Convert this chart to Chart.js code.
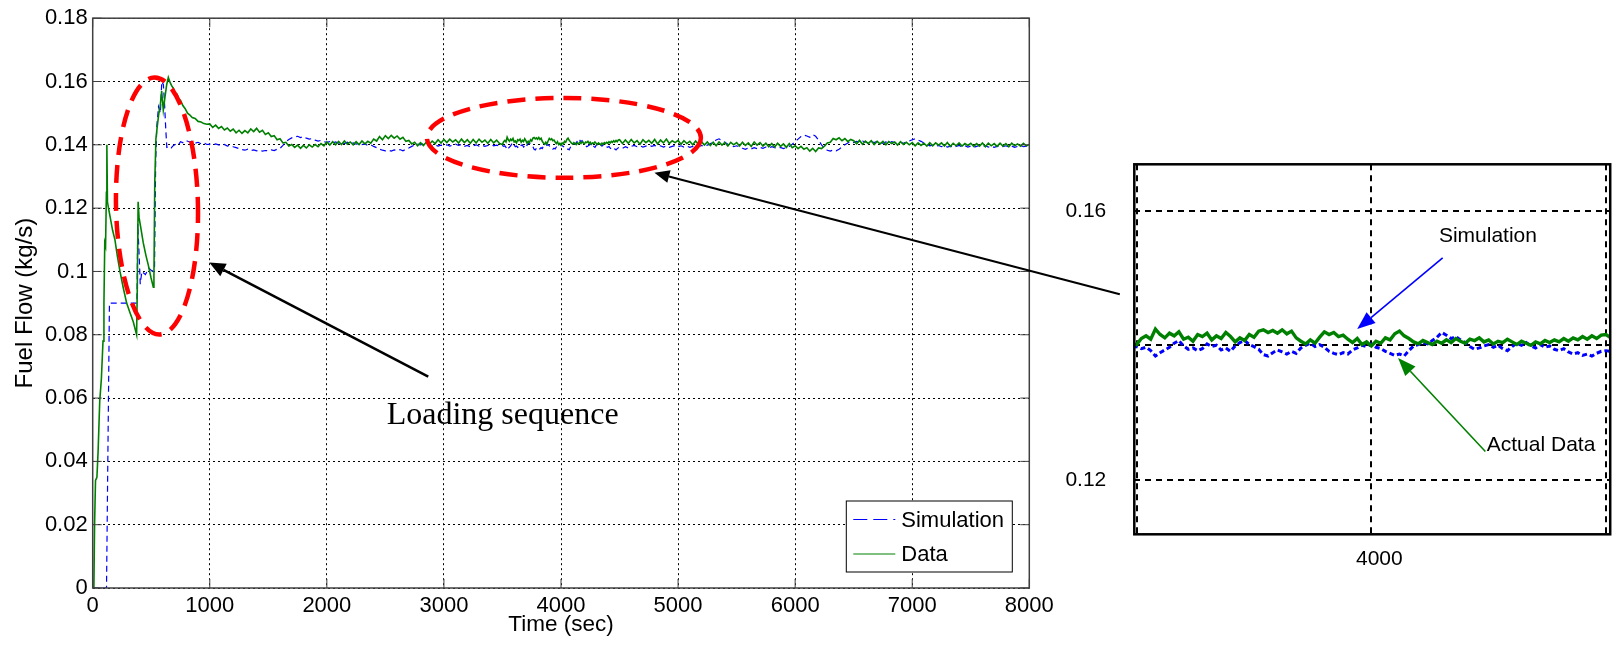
<!DOCTYPE html>
<html>
<head>
<meta charset="utf-8">
<script src="https://cdn.jsdelivr.net/npm/chart.js@4.4.1/dist/chart.umd.min.js"></script>
<style>
  html, body { margin: 0; padding: 0; background: #fff; }
  #wrap { position: relative; width: 1618px; height: 646px; overflow: hidden; }
  #mainChart { position: absolute; left: 0; top: 0; }
  #zoomChart { position: absolute; left: 1030px; top: 0; }
</style>
</head>
<body>
<div id="wrap">
  <canvas id="mainChart" width="1618" height="646"></canvas>
  <canvas id="zoomChart" width="588" height="646"></canvas>
</div>
<script>
// ---------- data ----------
// start-up transient, explicit sample times (s) and fuel flow (kg/s)
const simTransT = [0, 118, 143, 378, 385, 398, 406, 420, 450, 480,
  510, 528, 538, 548, 562, 578, 590, 604, 615, 624,
  633, 650, 670, 690, 710, 730, 750, 775, 800, 825,
  850, 875, 900, 925, 950, 975];
const simTransY = [0, 0, .090, .090, .115, .104, .096, .100, .099, .101,
  .100, .101, .135, .146, .152, .150, .160, .159, .152, .145,
  .1392, .1395, .1390, .1398, .1402, .1399, .1410, .1406, .1413, .1409,
  .1412, .1405, .1408, .1403, .1406, .1401];

const dataTransT = [0, 10, 16, 24, 36, 46, 60, 74, 88, 96,
  103, 110, 117, 121, 126, 135, 150, 170, 190, 210,
  233, 260, 290, 318, 347, 375, 381, 388, 396, 410,
  432, 455, 475, 498, 518, 523, 530, 540, 552, 565,
  576, 589, 603, 617, 632, 646, 660, 674, 690, 705,
  720, 735, 750, 770, 790, 810, 830, 850, 875, 900,
  925, 950, 975];
const dataTransY = [0, 0, .020, .034, .035, .043, .059, .066, .078, .090,
  .109, .108, .125, .140, .122, .120, .117, .113, .110, .105,
  .100, .095, .090, .087, .084, .080, .095, .122, .117, .114,
  .109, .105, .102, .098, .095, .098, .128, .142, .146, .150,
  .152, .157, .151, .155, .159, .1613, .1598, .1587, .1578, .1562,
  .1560, .1545, .1541, .1524, .1514, .1500, .1494, .1486, .1483, .1474,
  .1472, .1467, .1465];

// steady part A: 1000 .. 3475 s, every 25 s
const steadyA = { start: 1000, step: 25 };
const simSteadyA = [
  .1402, .1399, .1403, .1400, .1398, .1401, .1396, .1399, .1394, .1391,
  .1388, .1385, .1383, .1386, .1382, .1384, .1381, .1383, .1380, .1382,
  .1381, .1384, .1382, .1386, .1389, .1398, .1410, .1417, .1422, .1425,
  .1427, .1423, .1426, .1421, .1418, .1420, .1415, .1412, .1414, .1410,
  .1408, .1410, .1406, .1409, .1405, .1407, .1404, .1408, .1403, .1406,
  .1402, .1405, .1401, .1403, .1398, .1400, .1395, .1391, .1386, .1383,
  .1381, .1383, .1380, .1384, .1382, .1385, .1381, .1386, .1390, .1395,
  .1399, .1402, .1400, .1403, .1399, .1401, .1397, .1400, .1396, .1399,
  .1397, .1400, .1396, .1399, .1402, .1398, .1401, .1395, .1398, .1394,
  .1397, .1400, .1396, .1399, .1395, .1398, .1401, .1397, .1399, .1396];
const dataSteadyA = [
  .1466, .1455, .1462, .1452, .1458, .1447, .1453, .1443, .1450, .1438,
  .1446, .1436, .1445, .1438, .1450, .1442, .1452, .1440, .1446, .1433,
  .1438, .1426, .1429, .1416, .1419, .1406, .1408, .1396, .1401, .1392,
  .1399, .1389, .1398, .1390, .1400, .1393, .1401, .1394, .1404, .1397,
  .1409, .1399, .1410, .1400, .1411, .1401, .1412, .1402, .1409, .1400,
  .1410, .1401, .1412, .1403, .1411, .1405, .1418, .1412, .1426, .1416,
  .1429, .1420, .1430, .1421, .1428, .1418, .1424, .1411, .1414, .1403,
  .1408, .1397, .1407, .1398, .1409, .1402, .1412, .1404, .1416, .1406,
  .1417, .1407, .1418, .1409, .1416, .1406, .1418, .1407, .1416, .1405,
  .1417, .1406, .1418, .1408, .1415, .1405, .1417, .1406, .1415, .1404];

// steady part B (the zoomed window): 3500 .. 4490 s, every 10 s
const steadyB = { start: 3500, step: 10 };
const simSteadyB = [
  .1398, .1395, .1397, .1392, .1384, .1389, .1393, .1397, .1403, .1407,
  .1399, .1394, .1396, .1392, .1395, .1402, .1398, .1400, .1393, .1396,
  .1391, .1399, .1404, .1407, .1401, .1398, .1394, .1386, .1384, .1389,
  .1393, .1390, .1387, .1391, .1388, .1396, .1400, .1403, .1398, .1401,
  .1397, .1391, .1388, .1386, .1389, .1387, .1393, .1396, .1400, .1398,
  .1402, .1397, .1395, .1391, .1388, .1385, .1387, .1384, .1392, .1399,
  .1401, .1404, .1402, .1407, .1412, .1419, .1415, .1410, .1413, .1408,
  .1404, .1398, .1394, .1396, .1399, .1401, .1397, .1400, .1395, .1392,
  .1398, .1403, .1400, .1404, .1399, .1396, .1401, .1397, .1399, .1394,
  .1392, .1395, .1390, .1387, .1389, .1385, .1387, .1384, .1388, .1391];
const dataSteadyB = [
  .1401, .1410, .1414, .1409, .1424, .1416, .1411, .1418, .1414, .1420,
  .1409, .1412, .1406, .1416, .1413, .1418, .1408, .1414, .1410, .1419,
  .1413, .1405, .1411, .1407, .1416, .1412, .1421, .1423, .1419, .1422,
  .1418, .1423, .1417, .1421, .1411, .1406, .1402, .1408, .1403, .1412,
  .1420, .1416, .1419, .1413, .1415, .1409, .1404, .1410, .1401, .1405,
  .1399, .1406, .1403, .1411, .1408, .1417, .1421, .1414, .1410, .1405,
  .1402, .1407, .1404, .1401, .1406, .1403, .1408, .1404, .1410, .1406,
  .1403, .1409, .1407, .1411, .1405, .1408, .1402, .1406, .1404, .1409,
  .1405, .1401, .1406, .1403, .1400, .1405, .1402, .1407, .1404, .1408,
  .1405, .1410, .1406, .1411, .1408, .1413, .1409, .1414, .1410, .1415];

// steady part C: 4500 .. 8000 s, every 25 s
const steadyC = { start: 4500, step: 25 };
const simSteadyC = [
  .1392, .1389, .1394, .1390, .1395, .1398, .1394, .1397, .1393, .1396,
  .1399, .1395, .1398, .1394, .1397, .1393, .1396, .1392, .1395, .1398,
  .1394, .1397, .1393, .1396, .1392, .1395, .1391, .1394, .1398, .1395,
  .1399, .1403, .1409, .1415, .1419, .1413, .1408, .1402, .1398, .1394,
  .1397, .1393, .1389, .1386, .1390, .1387, .1391, .1388, .1392, .1389,
  .1393, .1390, .1394, .1391, .1389, .1392, .1388, .1391, .1395, .1402,
  .1410, .1418, .1426, .1431, .1428, .1424, .1432, .1427, .1415, .1400,
  .1389, .1383, .1380, .1384, .1381, .1386, .1393, .1400, .1406, .1410,
  .1407, .1411, .1408, .1412, .1409, .1406, .1410, .1407, .1411, .1408,
  .1405, .1409, .1406, .1410, .1407, .1404, .1408, .1405, .1409, .1412,
  .1416, .1419, .1415, .1411, .1406, .1401, .1397, .1399, .1395, .1398,
  .1394, .1397, .1393, .1396, .1392, .1395, .1398, .1394, .1397, .1393,
  .1396, .1392, .1395, .1398, .1394, .1397, .1393, .1396, .1392, .1395,
  .1398, .1394, .1397, .1393, .1396, .1392, .1395, .1398, .1394, .1396,
  .1397];
const dataSteadyC = [
  .1416, .1404, .1415, .1405, .1417, .1406, .1413, .1402, .1416, .1407,
  .1414, .1405, .1417, .1403, .1415, .1406, .1418, .1404, .1413, .1407,
  .1414, .1402, .1413, .1404, .1411, .1400, .1412, .1401, .1410, .1399,
  .1409, .1398, .1408, .1397, .1409, .1399, .1407, .1396, .1408, .1400,
  .1407, .1396, .1408, .1398, .1406, .1395, .1409, .1399, .1407, .1396,
  .1405, .1394, .1404, .1393, .1405, .1395, .1403, .1392, .1404, .1391,
  .1397, .1388, .1395, .1386, .1391, .1380, .1389, .1379, .1390, .1388,
  .1396, .1406, .1408, .1420, .1416, .1422, .1413, .1420, .1410, .1417,
  .1413, .1403, .1414, .1402, .1412, .1404, .1413, .1401, .1411, .1403,
  .1411, .1400, .1410, .1404, .1409, .1399, .1410, .1401, .1408, .1400,
  .1407, .1397, .1406, .1398, .1405, .1396, .1407, .1397, .1406, .1399,
  .1406, .1396, .1407, .1395, .1405, .1397, .1406, .1396, .1404, .1398,
  .1405, .1395, .1404, .1396, .1406, .1394, .1405, .1397, .1404, .1395,
  .1405, .1396, .1404, .1394, .1405, .1397, .1403, .1396, .1405, .1397,
  .1401];

// axis ticks
const xTicks = [0, 1000, 2000, 3000, 4000, 5000, 6000, 7000, 8000];
const yTicks = [0, 0.02, 0.04, 0.06, 0.08, 0.1, 0.12, 0.14, 0.16, 0.18];
const zoomXTicks = [3500, 4000, 4500];
const zoomXLabels = [4000];
const zoomYTicks = [0.12, 0.14, 0.16];
const zoomYLabels = [0.12, 0.16];

// ---------- helpers ----------
function pairPoints(times, values) {
  return times.map((t, i) => ({ x: t, y: values[i] }));
}
function stepPoints(seg, values) {
  return values.map((v, i) => ({ x: seg.start + i * seg.step, y: v }));
}

const simPoints = [].concat(
  pairPoints(simTransT, simTransY),
  stepPoints(steadyA, simSteadyA),
  stepPoints(steadyB, simSteadyB),
  stepPoints(steadyC, simSteadyC));
const dataPoints = [].concat(
  pairPoints(dataTransT, dataTransY),
  stepPoints(steadyA, dataSteadyA),
  stepPoints(steadyB, dataSteadyB),
  stepPoints(steadyC, dataSteadyC));

const SIM_BLUE = '#0000ff';
const DATA_GREEN = '#008000';
const SANS = "'Liberation Sans', Arial, sans-serif";
const SERIF = "'Liberation Serif', 'Times New Roman', serif";

function makeSets(simWidth, dataWidth, simDash) {
  return [
    { label: 'Simulation', data: simPoints, borderColor: SIM_BLUE, borderWidth: simWidth,
      borderDash: simDash, pointRadius: 0, tension: 0, order: 1 },
    { label: 'Data', data: dataPoints, borderColor: DATA_GREEN, borderWidth: dataWidth,
      pointRadius: 0, tension: 0, order: 0 },
  ];
}

function arrow(ctx, x1, y1, x2, y2, color, width, headLen, headHalf) {
  const a = Math.atan2(y2 - y1, x2 - x1);
  const bx = x2 - headLen * Math.cos(a), by = y2 - headLen * Math.sin(a);
  ctx.save();
  ctx.strokeStyle = color;
  ctx.fillStyle = color;
  ctx.lineWidth = width;
  ctx.setLineDash([]);
  ctx.beginPath(); ctx.moveTo(x1, y1); ctx.lineTo(bx, by); ctx.stroke();
  ctx.beginPath();
  ctx.moveTo(x2, y2);
  ctx.lineTo(bx + headHalf * Math.sin(a), by - headHalf * Math.cos(a));
  ctx.lineTo(bx - headHalf * Math.sin(a), by + headHalf * Math.cos(a));
  ctx.closePath(); ctx.fill();
  ctx.restore();
}

// ---------- annotations, in data units of each chart ----------
const loadingEllipse = { x: 549, y: 0.1207, rx: 350, ry: 0.0406, rot: -0.02 };
const steadyEllipse = { x: 4025, y: 0.1422, rx: 1170, ry: 0.0126, rot: 0 };
const loadingArrow = { from: [2866, 0.0668], to: [996, 0.1028] };
const zoomArrow = { from: [8773, 0.0928], to: [4798, 0.1312] };
const loadingLabel = { text: 'Loading sequence', x: 2511, y: 0.0519 };

const simNote = { text: 'Simulation', x: 4144, y: 0.1562, from: [4152, 0.1530], to: [3970, 0.1424] };
const dataNote = { text: 'Actual Data', x: 4246, y: 0.1252, from: [4243, 0.1242], to: [4057, 0.1381] };

// ---------- plugins ----------
const matlabFrame = {
  id: 'matlabFrame',
  afterDatasetsDraw(chart) {
    const { ctx, chartArea: a, scales } = chart;
    ctx.save();
    ctx.strokeStyle = '#404040';
    ctx.lineWidth = 1;
    ctx.beginPath();
    xTicks.forEach(v => {
      const px = scales.x.getPixelForValue(v);
      ctx.moveTo(px, a.bottom); ctx.lineTo(px, a.bottom - 9);
      ctx.moveTo(px, a.top); ctx.lineTo(px, a.top + 9);
    });
    yTicks.forEach(v => {
      const py = scales.y.getPixelForValue(v);
      ctx.moveTo(a.left, py); ctx.lineTo(a.left + 9, py);
      ctx.moveTo(a.right, py); ctx.lineTo(a.right - 9, py);
    });
    ctx.stroke();
    ctx.lineWidth = 1.5;
    ctx.strokeRect(a.left, a.top, a.right - a.left, a.bottom - a.top);
    ctx.restore();
  }
};

const matlabLegend = {
  id: 'matlabLegend',
  afterDraw(chart) {
    const { ctx, chartArea: a } = chart;
    const w = 166, h = 71;
    const left = a.right - 17 - w, top = a.bottom - 16 - h;
    ctx.save();
    ctx.fillStyle = '#fff';
    ctx.fillRect(left, top, w, h);
    ctx.strokeStyle = '#000';
    ctx.lineWidth = 1;
    ctx.strokeRect(left, top, w, h);
    const rows = [
      { label: 'Simulation', color: SIM_BLUE, dash: [14, 6], y: top + 18.5 },
      { label: 'Data', color: DATA_GREEN, dash: [], y: top + 53 },
    ];
    ctx.font = '22px ' + SANS;
    ctx.textBaseline = 'middle';
    rows.forEach(r => {
      ctx.strokeStyle = r.color;
      ctx.lineWidth = 1.2;
      ctx.setLineDash(r.dash);
      ctx.beginPath(); ctx.moveTo(left + 7, r.y); ctx.lineTo(left + 49, r.y); ctx.stroke();
      ctx.setLineDash([]);
      ctx.fillStyle = '#000';
      ctx.fillText(r.label, left + 55, r.y + 1);
    });
    ctx.restore();
  }
};

const mainNotes = {
  id: 'mainNotes',
  afterDraw(chart) {
    const { ctx, scales: { x, y } } = chart;
    const px = v => x.getPixelForValue(v), py = v => y.getPixelForValue(v);
    ctx.save();
    ctx.strokeStyle = '#ff0000';
    ctx.lineWidth = 4.5;
    ctx.setLineDash([18, 10]);
    [loadingEllipse, steadyEllipse].forEach(e => {
      const cx = px(e.x), cy = py(e.y);
      const rx = px(e.x + e.rx) - cx, ry = cy - py(e.y + e.ry);
      ctx.beginPath();
      ctx.ellipse(cx, cy, rx, ry, e.rot, 0, Math.PI * 2);
      ctx.stroke();
    });
    ctx.restore();
    arrow(ctx, px(loadingArrow.from[0]), py(loadingArrow.from[1]),
      px(loadingArrow.to[0]), py(loadingArrow.to[1]), '#000', 2.5, 16, 7);
    arrow(ctx, px(zoomArrow.from[0]), py(zoomArrow.from[1]),
      px(zoomArrow.to[0]), py(zoomArrow.to[1]), '#000', 2, 15, 6.5);
    ctx.save();
    ctx.fillStyle = '#000';
    ctx.font = '32px ' + SERIF;
    ctx.textBaseline = 'alphabetic';
    ctx.fillText(loadingLabel.text, px(loadingLabel.x), py(loadingLabel.y));
    ctx.restore();
  }
};

const zoomFrame = {
  id: 'zoomFrame',
  afterDatasetsDraw(chart) {
    const { ctx, chartArea: a } = chart;
    ctx.save();
    ctx.strokeStyle = '#000';
    ctx.lineWidth = 2.5;
    ctx.strokeRect(a.left, a.top, a.right - a.left, a.bottom - a.top);
    ctx.restore();
  }
};

const zoomNotes = {
  id: 'zoomNotes',
  afterDraw(chart) {
    const { ctx, scales: { x, y } } = chart;
    const px = v => x.getPixelForValue(v), py = v => y.getPixelForValue(v);
    [[simNote, SIM_BLUE], [dataNote, DATA_GREEN]].forEach(([n, color]) => {
      arrow(ctx, px(n.from[0]), py(n.from[1]), px(n.to[0]), py(n.to[1]), color, 1.6, 18, 7);
      ctx.save();
      ctx.fillStyle = '#000';
      ctx.font = '21px ' + SANS;
      ctx.textBaseline = 'middle';
      ctx.fillText(n.text, px(n.x), py(n.y));
      ctx.restore();
    });
  }
};

// ---------- charts ----------
const tickFont = { family: SANS, size: 22 };
const titleFont = { family: SANS, size: 22.5 };

new Chart(document.getElementById('mainChart'), {
  type: 'line',
  data: { datasets: makeSets(1.2, 1.6, [6, 4]) },
  options: {
    responsive: false,
    animation: false,
    devicePixelRatio: 1,
    events: [],
    parsing: false,
    layout: { padding: { left: 0, top: 16.7, right: 588.7, bottom: 7.5 } },
    plugins: { legend: { display: false }, tooltip: { enabled: false } },
    scales: {
      x: {
        type: 'linear', min: 0, max: 8000,
        afterBuildTicks: s => { s.ticks = xTicks.map(v => ({ value: v })); },
        afterFit: s => { s.height = 50.5; },
        ticks: { font: tickFont, color: '#000', padding: 5, maxRotation: 0, autoSkip: false,
          callback: v => String(v) },
        grid: { color: '#000', lineWidth: 1, drawTicks: false },
        border: { display: false, dash: [2, 3] },
        title: { display: true, text: 'Time (sec)', font: titleFont, color: '#000',
          padding: { top: 0, bottom: 0 } }
      },
      y: {
        type: 'linear', min: 0, max: 0.18,
        afterBuildTicks: s => { s.ticks = yTicks.map(v => ({ value: v })); },
        afterFit: s => { s.width = 92.7; },
        ticks: { font: tickFont, color: '#000', padding: 5, autoSkip: false,
          callback: v => String(+v.toFixed(2)) },
        grid: { color: '#000', lineWidth: 1, drawTicks: false },
        border: { display: false, dash: [2, 3] },
        title: { display: true, text: 'Fuel Flow (kg/s)', font: { family: SANS, size: 24 }, color: '#000',
          padding: { top: 10.5, bottom: 0 } }
      }
    }
  },
  plugins: [matlabFrame, matlabLegend, mainNotes]
});

new Chart(document.getElementById('zoomChart'), {
  type: 'line',
  data: { datasets: makeSets(3, 3.4, [5, 3]) },
  options: {
    responsive: false,
    animation: false,
    devicePixelRatio: 1,
    events: [],
    parsing: false,
    layout: { padding: { left: 0, top: 164.3, right: 1.3, bottom: 0 } },
    plugins: { legend: { display: false }, tooltip: { enabled: false } },
    scales: {
      x: {
        type: 'linear', min: 3495, max: 4509,
        afterBuildTicks: s => { s.ticks = zoomXTicks.map(v => ({ value: v })); },
        afterFit: s => { s.height = 111.7; },
        ticks: { font: { family: SANS, size: 21 }, color: '#000', padding: 12, maxRotation: 0,
          labelOffset: 8, autoSkip: false, callback: v => zoomXLabels.includes(v) ? String(v) : '' },
        grid: { color: '#000', lineWidth: 2, drawTicks: false },
        border: { display: false, dash: [6, 5] }
      },
      y: {
        type: 'linear', min: 0.1119, max: 0.1669,
        afterBuildTicks: s => { s.ticks = zoomYTicks.map(v => ({ value: v })); },
        afterFit: s => { s.width = 104.3; },
        ticks: { font: { family: SANS, size: 21 }, color: '#000', padding: 28, autoSkip: false,
          callback: v => zoomYLabels.includes(v) ? String(v) : '' },
        grid: { color: '#000', lineWidth: 2, drawTicks: false },
        border: { display: false, dash: [6, 5] }
      }
    }
  },
  plugins: [zoomFrame, zoomNotes]
});
</script>
</body>
</html>
